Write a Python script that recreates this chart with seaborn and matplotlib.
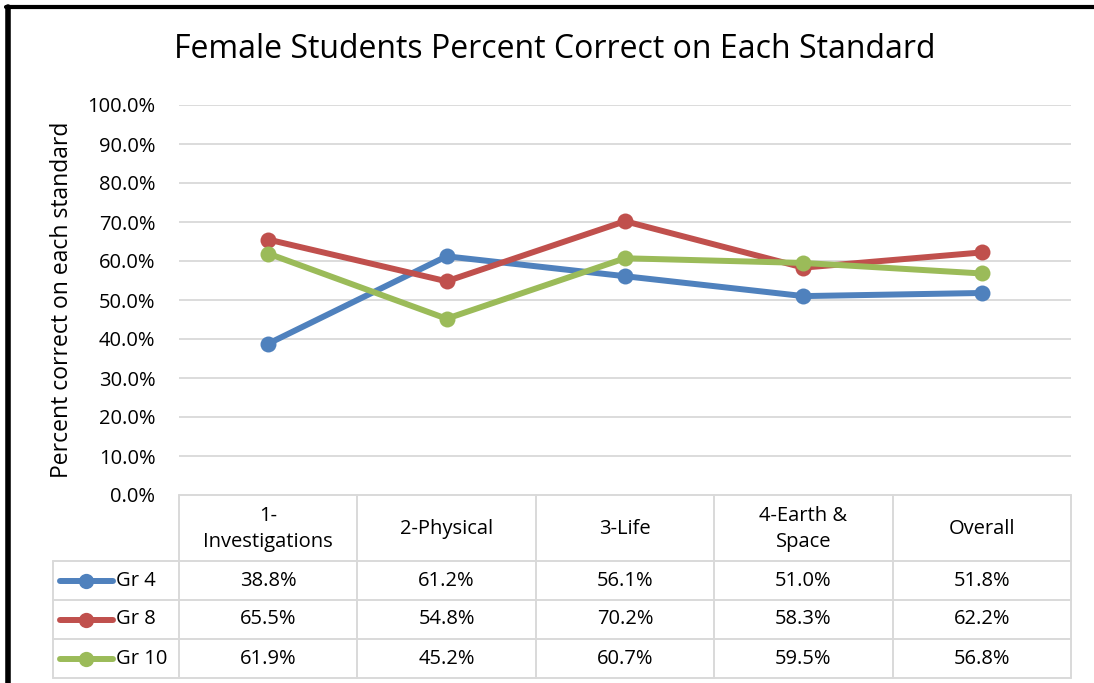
import matplotlib
matplotlib.use("Agg")
import matplotlib.pyplot as plt
import seaborn as sns
import pandas as pd
from matplotlib.lines import Line2D

categories = ["1-\nInvestigations", "2-Physical", "3-Life", "4-Earth &\nSpace", "Overall"]
series_names = ["Gr 4", "Gr 8", "Gr 10"]
gr4 = [38.8, 61.2, 56.1, 51.0, 51.8]
gr8 = [65.5, 54.8, 70.2, 58.3, 62.2]
gr10 = [61.9, 45.2, 60.7, 59.5, 56.8]
colors = ["#4F81BD", "#C0504D", "#9BBB59"]
yticks = [0, 10, 20, 30, 40, 50, 60, 70, 80, 90, 100]

sns.set_theme(style="white")
plt.rcParams['font.family'] = ['Open Sans', 'DejaVu Sans']

rows = []
for name, vals in zip(series_names, [gr4, gr8, gr10]):
    for i, v in enumerate(vals):
        rows.append({"x": i, "value": v, "series": name})
df = pd.DataFrame(rows)

W, H = 1094, 683
fig = plt.figure(figsize=(W / 100, H / 100), dpi=100)

def fx(px):
    return px / W

def fy(py):
    return 1 - py / H

TXT = 14.5

# main plot axes
left, right, top, bottom = 179, 1071, 105, 495
ax = fig.add_axes([fx(left), fy(bottom), fx(right - left), (bottom - top) / H])
sns.lineplot(data=df, x="x", y="value", hue="series", palette=colors,
             marker="o", markersize=11.5, linewidth=4.3, markeredgewidth=0,
             legend=False, ax=ax)
ax.set_xlim(-0.5, 4.5)
ax.set_ylim(0, 100)
ax.set_yticks(yticks)
ax.set_yticklabels([f"{t:.1f}%" for t in yticks], fontsize=14.5, color="#000000")
ax.set_xticks([])
ax.set_xlabel("")
ax.set_ylabel("Percent correct on each standard", fontsize=16.5, color="#000000")
ax.yaxis.set_label_coords(-(179 - 62) / (right - left), 0.5)
ax.yaxis.label.set_va("center")
ax.tick_params(axis="y", length=0, pad=17)
for y in yticks[1:]:
    ax.axhline(y, color="#D9D9D9", linewidth=1.3, zorder=0)
for s in ax.spines.values():
    s.set_visible(False)
ax.patch.set_alpha(0)

# data table axes
unit = (right - left) / 5.0
tleft = 53
tbl_top, tbl_bot = 495, 678
tax = fig.add_axes([fx(tleft), fy(tbl_bot), fx(right - tleft), (tbl_bot - tbl_top) / H])
tax.set_xlim(-0.5 - (left - tleft) / unit, 4.5)
tax.set_ylim(tbl_bot - tbl_top, 0)
tax.axis("off")
gc = "#D9D9D9"
lw = 1.4
xl = -0.5 - (left - tleft) / unit
hdr = 66
rh = 39
# horizontal lines
tax.plot([-0.5, 4.5], [0, 0], color=gc, lw=lw, clip_on=False)
for k in range(4):
    y = hdr + k * rh
    tax.plot([xl, 4.5], [y, y], color=gc, lw=lw, clip_on=False)
# vertical lines
tax.plot([xl, xl], [hdr, hdr + 3 * rh], color=gc, lw=lw, clip_on=False)
for c in range(6):
    xx = -0.5 + c
    tax.plot([xx, xx], [0, hdr + 3 * rh], color=gc, lw=lw, clip_on=False)
# header text
for i, cat in enumerate(categories):
    tax.text(i, hdr / 2 + 1, cat, ha="center", va="center", fontsize=TXT,
             linespacing=1.45, color="#000000")
# rows
for r, (name, vals, col) in enumerate(zip(series_names, [gr4, gr8, gr10], colors)):
    yc = hdr + r * rh + rh / 2
    x0 = xl + 7 / unit
    x1 = xl + 60 / unit
    tax.add_line(Line2D([x0, x1], [yc, yc], color=col, lw=4.3, solid_capstyle="round"))
    tax.plot([(x0 + x1) / 2], [yc], marker="o", color=col, markersize=11, markeredgewidth=0)
    tax.text(xl + 63 / unit, yc, name, ha="left", va="center", fontsize=TXT, color="#000000")
    for i, v in enumerate(vals):
        tax.text(i, yc, f"{v:.1f}%", ha="center", va="center", fontsize=TXT, color="#000000")

# title
fig.text(fx(555), fy(50), "Female Students Percent Correct on Each Standard",
         ha="center", va="center", fontsize=23, color="#000000")

# outer chart frame (partially cropped)
fig.add_artist(Line2D([fx(8), fx(8)], [0, fy(7)], color="black", lw=4))
fig.add_artist(Line2D([fx(6), 1], [fy(7), fy(7)], color="black", lw=3))

fig.savefig("out.png", dpi=100, facecolor="white")
